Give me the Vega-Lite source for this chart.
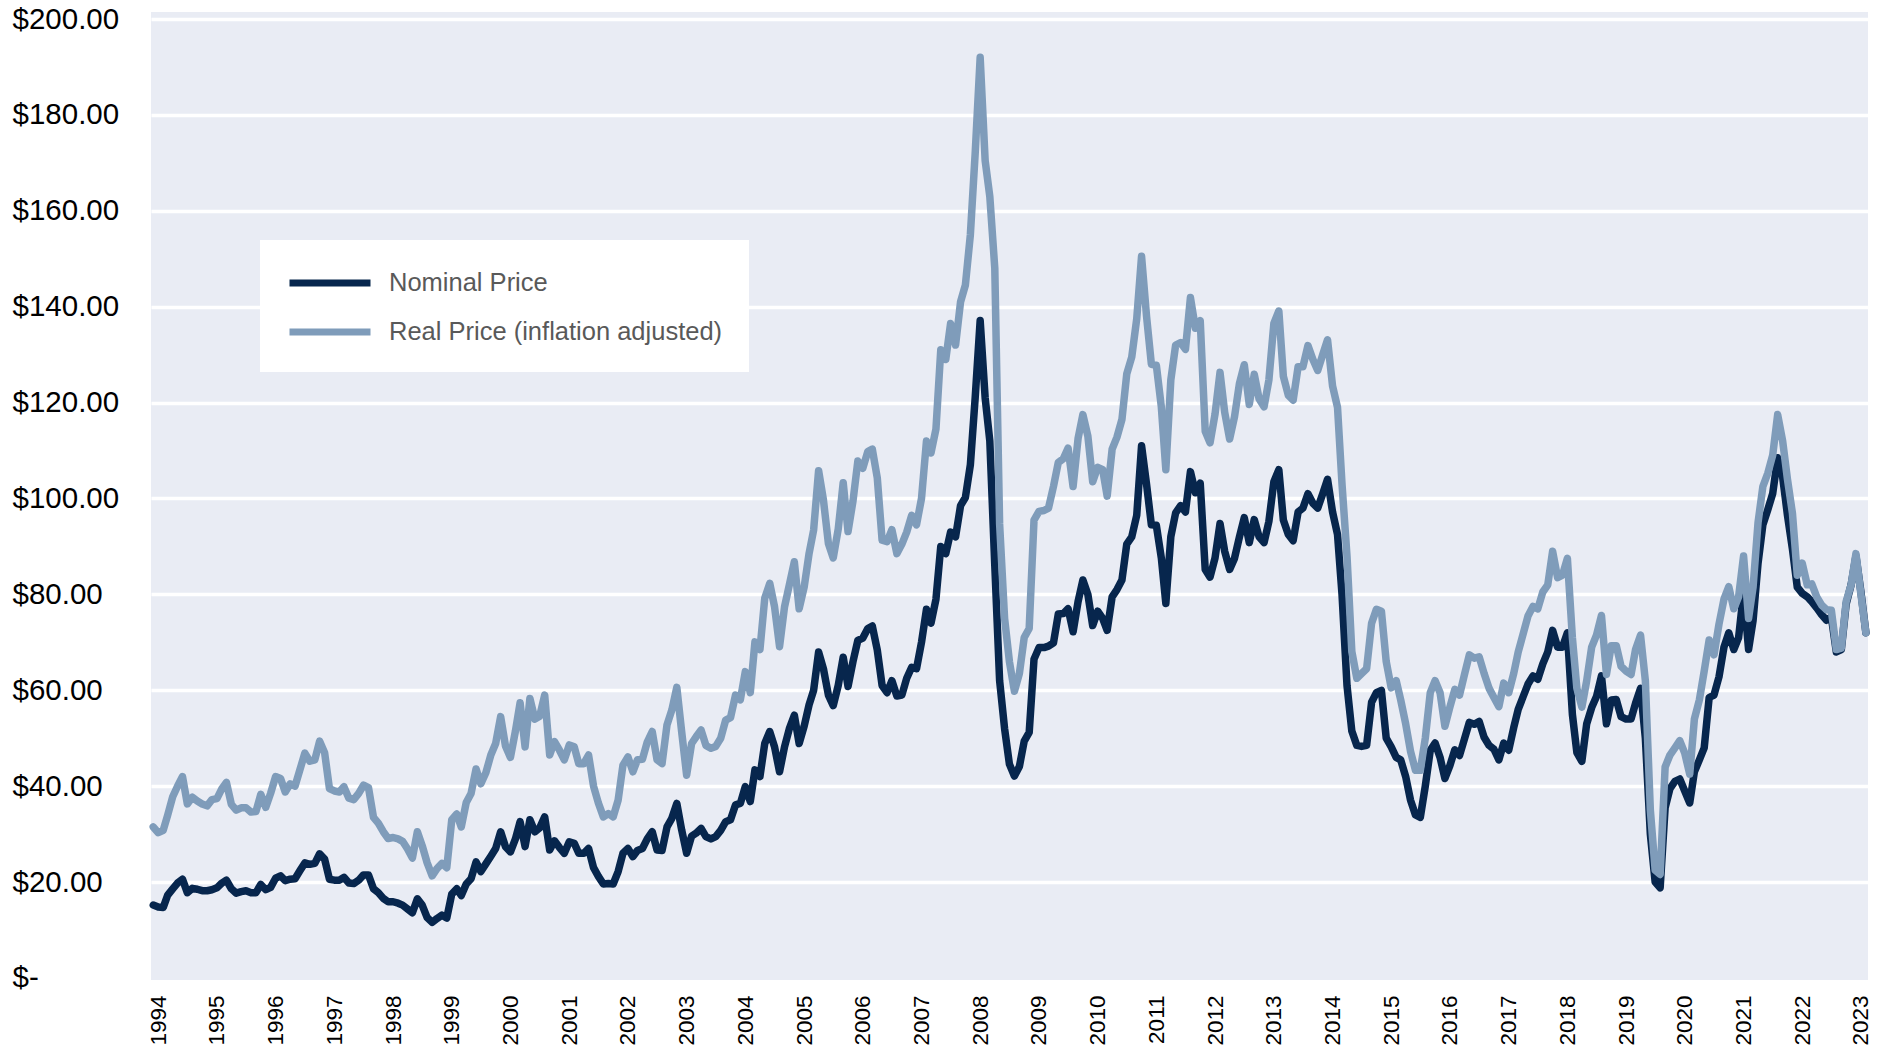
{
"$schema":"https://vega.github.io/schema/vega-lite/v6.json",
"width":1717,"height":968,
"autosize":{"type":"none"},
"padding":{"left":151,"top":12,"right":23,"bottom":74},
"background":"#ffffff",
"config":{"font":"Liberation Sans","view":{"fill":"#E9ECF4","stroke":null}},
"data":{"values":[
{"d":"1993-12","n":15.2,"r":31.5},
{"d":"1994-01","n":14.8,"r":30.3},{"d":"1994-02","n":14.7,"r":30.8},{"d":"1994-03","n":17.3,"r":34.0},{"d":"1994-04","n":18.6,"r":37.8},{"d":"1994-05","n":19.8,"r":40.0},{"d":"1994-06","n":20.6,"r":42.0},{"d":"1994-07","n":17.8,"r":36.3},{"d":"1994-08","n":18.7,"r":37.7},{"d":"1994-09","n":18.5,"r":36.9},{"d":"1994-10","n":18.2,"r":36.3},{"d":"1994-11","n":18.2,"r":35.9},{"d":"1994-12","n":18.4,"r":37.2},
{"d":"1995-01","n":18.8,"r":37.4},{"d":"1995-02","n":19.8,"r":39.5},{"d":"1995-03","n":20.4,"r":40.8},{"d":"1995-04","n":18.6,"r":36.2},{"d":"1995-05","n":17.7,"r":35.0},{"d":"1995-06","n":18.0,"r":35.5},{"d":"1995-07","n":18.2,"r":35.5},{"d":"1995-08","n":17.8,"r":34.6},{"d":"1995-09","n":17.8,"r":34.7},{"d":"1995-10","n":19.5,"r":38.3},{"d":"1995-11","n":18.4,"r":35.6},{"d":"1995-12","n":18.9,"r":38.5},
{"d":"1996-01","n":20.8,"r":42.0},{"d":"1996-02","n":21.3,"r":41.6},{"d":"1996-03","n":20.3,"r":38.8},{"d":"1996-04","n":20.6,"r":40.5},{"d":"1996-05","n":20.7,"r":40.0},{"d":"1996-06","n":22.4,"r":43.5},{"d":"1996-07","n":24.0,"r":46.9},{"d":"1996-08","n":23.7,"r":45.2},{"d":"1996-09","n":23.9,"r":45.5},{"d":"1996-10","n":25.9,"r":49.4},{"d":"1996-11","n":24.8,"r":47.0},{"d":"1996-12","n":20.6,"r":39.5},
{"d":"1997-01","n":20.4,"r":39.0},{"d":"1997-02","n":20.4,"r":38.8},{"d":"1997-03","n":21.0,"r":39.9},{"d":"1997-04","n":19.8,"r":37.5},{"d":"1997-05","n":19.7,"r":37.2},{"d":"1997-06","n":20.4,"r":38.5},{"d":"1997-07","n":21.5,"r":40.2},{"d":"1997-08","n":21.5,"r":39.7},{"d":"1997-09","n":18.6,"r":33.5},{"d":"1997-10","n":17.8,"r":32.3},{"d":"1997-11","n":16.6,"r":30.5},{"d":"1997-12","n":15.9,"r":29.1},
{"d":"1998-01","n":15.9,"r":29.3},{"d":"1998-02","n":15.6,"r":29.0},{"d":"1998-03","n":15.2,"r":28.5},{"d":"1998-04","n":14.4,"r":26.9},{"d":"1998-05","n":13.6,"r":25.0},{"d":"1998-06","n":16.5,"r":30.5},{"d":"1998-07","n":15.2,"r":27.6},{"d":"1998-08","n":12.6,"r":24.0},{"d":"1998-09","n":11.6,"r":21.3},{"d":"1998-10","n":12.4,"r":22.8},{"d":"1998-11","n":13.1,"r":23.9},{"d":"1998-12","n":12.5,"r":23.0},
{"d":"1999-01","n":17.5,"r":33.0},{"d":"1999-02","n":18.6,"r":34.2},{"d":"1999-03","n":17.2,"r":31.5},{"d":"1999-04","n":19.6,"r":36.6},{"d":"1999-05","n":20.7,"r":38.5},{"d":"1999-06","n":24.2,"r":43.6},{"d":"1999-07","n":22.2,"r":40.5},{"d":"1999-08","n":23.8,"r":42.8},{"d":"1999-09","n":25.4,"r":46.5},{"d":"1999-10","n":27.0,"r":48.9},{"d":"1999-11","n":30.5,"r":54.5},{"d":"1999-12","n":27.4,"r":48.4},
{"d":"2000-01","n":26.3,"r":46.0},{"d":"2000-02","n":29.0,"r":51.5},{"d":"2000-03","n":32.6,"r":57.4},{"d":"2000-04","n":27.4,"r":48.2},{"d":"2000-05","n":33.0,"r":58.3},{"d":"2000-06","n":30.5,"r":54.0},{"d":"2000-07","n":31.3,"r":54.6},{"d":"2000-08","n":33.6,"r":59.0},{"d":"2000-09","n":26.7,"r":46.5},{"d":"2000-10","n":28.6,"r":49.3},{"d":"2000-11","n":27.2,"r":47.5},{"d":"2000-12","n":26.0,"r":45.5},
{"d":"2001-01","n":28.4,"r":48.6},{"d":"2001-02","n":28.1,"r":48.2},{"d":"2001-03","n":26.0,"r":44.7},{"d":"2001-04","n":26.0,"r":44.7},{"d":"2001-05","n":27.0,"r":46.5},{"d":"2001-06","n":23.0,"r":40.0},{"d":"2001-07","n":21.2,"r":36.5},{"d":"2001-08","n":19.6,"r":33.6},{"d":"2001-09","n":19.7,"r":34.3},{"d":"2001-10","n":19.6,"r":33.6},{"d":"2001-11","n":22.2,"r":37.1},{"d":"2001-12","n":26.0,"r":44.4},
{"d":"2002-01","n":27.0,"r":46.1},{"d":"2002-02","n":25.3,"r":43.0},{"d":"2002-03","n":26.6,"r":45.5},{"d":"2002-04","n":27.0,"r":45.6},{"d":"2002-05","n":29.0,"r":49.2},{"d":"2002-06","n":30.5,"r":51.4},{"d":"2002-07","n":26.7,"r":45.5},{"d":"2002-08","n":26.6,"r":44.7},{"d":"2002-09","n":31.5,"r":52.8},{"d":"2002-10","n":33.3,"r":55.9},{"d":"2002-11","n":36.4,"r":60.6},{"d":"2002-12","n":30.9,"r":51.4},
{"d":"2003-01","n":26.0,"r":42.3},{"d":"2003-02","n":29.6,"r":48.9},{"d":"2003-03","n":30.2,"r":50.3},{"d":"2003-04","n":31.2,"r":51.7},{"d":"2003-05","n":29.5,"r":48.5},{"d":"2003-06","n":29.0,"r":47.9},{"d":"2003-07","n":29.5,"r":48.3},{"d":"2003-08","n":30.8,"r":50.0},{"d":"2003-09","n":32.6,"r":53.8},{"d":"2003-10","n":33.0,"r":54.3},{"d":"2003-11","n":36.1,"r":59.0},{"d":"2003-12","n":36.4,"r":58.0},
{"d":"2004-01","n":39.9,"r":63.9},{"d":"2004-02","n":36.8,"r":59.5},{"d":"2004-03","n":43.4,"r":70.1},{"d":"2004-04","n":42.0,"r":68.5},{"d":"2004-05","n":48.9,"r":79.2},{"d":"2004-06","n":51.4,"r":82.3},{"d":"2004-07","n":48.2,"r":77.4},{"d":"2004-08","n":43.0,"r":69.1},{"d":"2004-09","n":48.2,"r":77.4},{"d":"2004-10","n":52.0,"r":82.0},{"d":"2004-11","n":54.8,"r":86.8},{"d":"2004-12","n":48.9,"r":77.0},
{"d":"2005-01","n":52.5,"r":81.5},{"d":"2005-02","n":57.0,"r":88.6},{"d":"2005-03","n":60.0,"r":93.4},{"d":"2005-04","n":68.0,"r":105.8},{"d":"2005-05","n":64.5,"r":99.7},{"d":"2005-06","n":59.0,"r":90.6},{"d":"2005-07","n":56.8,"r":87.6},{"d":"2005-08","n":61.0,"r":93.6},{"d":"2005-09","n":66.9,"r":103.3},{"d":"2005-10","n":60.8,"r":93.1},{"d":"2005-11","n":66.0,"r":99.5},{"d":"2005-12","n":70.4,"r":107.8},
{"d":"2006-01","n":70.9,"r":106.3},{"d":"2006-02","n":72.9,"r":109.8},{"d":"2006-03","n":73.4,"r":110.3},{"d":"2006-04","n":68.4,"r":104.3},{"d":"2006-05","n":61.0,"r":91.3},{"d":"2006-06","n":59.5,"r":91.0},{"d":"2006-07","n":62.0,"r":93.5},{"d":"2006-08","n":58.8,"r":88.5},{"d":"2006-09","n":59.0,"r":90.5},{"d":"2006-10","n":62.5,"r":93.0},{"d":"2006-11","n":64.8,"r":96.5},{"d":"2006-12","n":64.5,"r":94.5},
{"d":"2007-01","n":70.0,"r":100.0},{"d":"2007-02","n":76.9,"r":112.0},{"d":"2007-03","n":74.0,"r":109.5},{"d":"2007-04","n":79.0,"r":114.5},{"d":"2007-05","n":90.0,"r":131.0},{"d":"2007-06","n":88.5,"r":129.0},{"d":"2007-07","n":93.0,"r":136.5},{"d":"2007-08","n":92.0,"r":132.0},{"d":"2007-09","n":98.5,"r":141.0},{"d":"2007-10","n":100.2,"r":144.5},{"d":"2007-11","n":107.0,"r":155.0},{"d":"2007-12","n":121.0,"r":172.0},
{"d":"2008-01","n":137.1,"r":192.0},{"d":"2008-02","n":121.0,"r":170.5},{"d":"2008-03","n":112.0,"r":163.0},{"d":"2008-04","n":86.0,"r":148.0},{"d":"2008-05","n":62.0,"r":94.7},{"d":"2008-06","n":52.0,"r":75.0},{"d":"2008-07","n":44.6,"r":66.0},{"d":"2008-08","n":42.1,"r":59.8},{"d":"2008-09","n":44.1,"r":63.5},{"d":"2008-10","n":49.4,"r":71.0},{"d":"2008-11","n":51.2,"r":72.9},{"d":"2008-12","n":66.5,"r":95.5},
{"d":"2009-01","n":68.9,"r":97.3},{"d":"2009-02","n":68.9,"r":97.5},{"d":"2009-03","n":69.2,"r":98.0},{"d":"2009-04","n":69.9,"r":102.5},{"d":"2009-05","n":75.9,"r":107.5},{"d":"2009-06","n":76.0,"r":108.3},{"d":"2009-07","n":77.0,"r":110.5},{"d":"2009-08","n":72.2,"r":102.5},{"d":"2009-09","n":78.5,"r":112.5},{"d":"2009-10","n":83.0,"r":117.5},{"d":"2009-11","n":80.0,"r":113.0},{"d":"2009-12","n":73.5,"r":103.5},
{"d":"2010-01","n":76.5,"r":106.5},{"d":"2010-02","n":75.0,"r":106.0},{"d":"2010-03","n":72.5,"r":100.5},{"d":"2010-04","n":79.5,"r":110.3},{"d":"2010-05","n":81.0,"r":112.8},{"d":"2010-06","n":83.0,"r":116.5},{"d":"2010-07","n":90.5,"r":126.0},{"d":"2010-08","n":92.0,"r":129.5},{"d":"2010-09","n":96.5,"r":137.5},{"d":"2010-10","n":111.0,"r":150.5},{"d":"2010-11","n":103.0,"r":138.0},{"d":"2010-12","n":94.5,"r":128.0},
{"d":"2011-01","n":94.4,"r":127.8},{"d":"2011-02","n":87.6,"r":119.1},{"d":"2011-03","n":78.1,"r":106.0},{"d":"2011-04","n":92.0,"r":124.7},{"d":"2011-05","n":97.0,"r":132.0},{"d":"2011-06","n":98.5,"r":132.5},{"d":"2011-07","n":97.2,"r":131.1},{"d":"2011-08","n":105.6,"r":141.9},{"d":"2011-09","n":101.2,"r":135.5},{"d":"2011-10","n":103.2,"r":137.1},{"d":"2011-11","n":85.2,"r":114.0},{"d":"2011-12","n":83.6,"r":111.6},
{"d":"2012-01","n":87.6,"r":117.6},{"d":"2012-02","n":94.8,"r":126.3},{"d":"2012-03","n":89.0,"r":118.0},{"d":"2012-04","n":85.2,"r":112.4},{"d":"2012-05","n":87.5,"r":117.0},{"d":"2012-06","n":92.0,"r":124.0},{"d":"2012-07","n":96.0,"r":127.9},{"d":"2012-08","n":90.8,"r":119.6},{"d":"2012-09","n":95.6,"r":125.9},{"d":"2012-10","n":92.0,"r":120.8},{"d":"2012-11","n":90.8,"r":119.1},{"d":"2012-12","n":95.2,"r":124.7},
{"d":"2013-01","n":103.5,"r":136.5},{"d":"2013-02","n":106.0,"r":139.1},{"d":"2013-03","n":95.5,"r":125.5},{"d":"2013-04","n":92.5,"r":121.5},{"d":"2013-05","n":91.2,"r":120.5},{"d":"2013-06","n":97.2,"r":127.5},{"d":"2013-07","n":98.0,"r":127.5},{"d":"2013-08","n":101.0,"r":131.9},{"d":"2013-09","n":99.0,"r":129.0},{"d":"2013-10","n":98.0,"r":126.7},{"d":"2013-11","n":101.0,"r":130.0},{"d":"2013-12","n":104.0,"r":133.1},
{"d":"2014-01","n":97.2,"r":123.5},{"d":"2014-02","n":92.5,"r":119.0},{"d":"2014-03","n":80.0,"r":103.0},{"d":"2014-04","n":61.0,"r":88.0},{"d":"2014-05","n":51.5,"r":68.1},{"d":"2014-06","n":48.5,"r":62.5},{"d":"2014-07","n":48.3,"r":63.5},{"d":"2014-08","n":48.5,"r":64.5},{"d":"2014-09","n":57.5,"r":74.0},{"d":"2014-10","n":59.5,"r":76.9},{"d":"2014-11","n":60.0,"r":76.5},{"d":"2014-12","n":50.0,"r":66.0},
{"d":"2015-01","n":48.2,"r":60.5},{"d":"2015-02","n":46.0,"r":62.0},{"d":"2015-03","n":45.5,"r":58.0},{"d":"2015-04","n":42.0,"r":53.0},{"d":"2015-05","n":37.1,"r":47.3},{"d":"2015-06","n":34.0,"r":43.3},{"d":"2015-07","n":33.5,"r":43.3},{"d":"2015-08","n":40.0,"r":50.0},{"d":"2015-09","n":47.5,"r":59.5},{"d":"2015-10","n":49.0,"r":62.0},{"d":"2015-11","n":46.0,"r":59.5},{"d":"2015-12","n":41.6,"r":52.5},
{"d":"2016-01","n":44.3,"r":56.5},{"d":"2016-02","n":47.6,"r":60.2},{"d":"2016-03","n":46.4,"r":59.0},{"d":"2016-04","n":49.9,"r":63.3},{"d":"2016-05","n":53.3,"r":67.4},{"d":"2016-06","n":52.9,"r":66.7},{"d":"2016-07","n":53.5,"r":67.0},{"d":"2016-08","n":50.2,"r":63.5},{"d":"2016-09","n":48.5,"r":60.4},{"d":"2016-10","n":47.7,"r":58.5},{"d":"2016-11","n":45.5,"r":56.6},{"d":"2016-12","n":49.0,"r":61.5},
{"d":"2017-01","n":47.5,"r":59.5},{"d":"2017-02","n":52.2,"r":63.5},{"d":"2017-03","n":56.0,"r":68.0},{"d":"2017-04","n":58.7,"r":71.8},{"d":"2017-05","n":61.3,"r":75.5},{"d":"2017-06","n":63.0,"r":77.5},{"d":"2017-07","n":62.3,"r":77.0},{"d":"2017-08","n":65.5,"r":80.5},{"d":"2017-09","n":68.0,"r":82.0},{"d":"2017-10","n":72.5,"r":89.0},{"d":"2017-11","n":69.0,"r":83.5},{"d":"2017-12","n":69.0,"r":84.0},
{"d":"2018-01","n":72.0,"r":87.5},{"d":"2018-02","n":55.0,"r":71.0},{"d":"2018-03","n":47.0,"r":60.4},{"d":"2018-04","n":45.2,"r":56.5},{"d":"2018-05","n":53.0,"r":62.0},{"d":"2018-06","n":56.4,"r":69.0},{"d":"2018-07","n":58.7,"r":71.5},{"d":"2018-08","n":63.0,"r":75.6},{"d":"2018-09","n":53.0,"r":63.3},{"d":"2018-10","n":58.0,"r":69.3},{"d":"2018-11","n":58.1,"r":69.3},{"d":"2018-12","n":54.5,"r":65.0},
{"d":"2019-01","n":54.0,"r":64.0},{"d":"2019-02","n":54.0,"r":63.3},{"d":"2019-03","n":57.3,"r":68.5},{"d":"2019-04","n":60.4,"r":71.5},{"d":"2019-05","n":50.0,"r":62.0},{"d":"2019-06","n":30.0,"r":35.0},{"d":"2019-07","n":20.0,"r":22.5},{"d":"2019-08","n":18.8,"r":21.6},{"d":"2019-09","n":35.5,"r":44.0},{"d":"2019-10","n":39.5,"r":46.5},{"d":"2019-11","n":41.0,"r":48.0},{"d":"2019-12","n":41.5,"r":49.5},
{"d":"2020-01","n":39.0,"r":46.9},{"d":"2020-02","n":36.5,"r":42.5},{"d":"2020-03","n":43.0,"r":54.0},{"d":"2020-04","n":45.5,"r":58.0},{"d":"2020-05","n":48.0,"r":64.0},{"d":"2020-06","n":58.5,"r":70.5},{"d":"2020-07","n":59.0,"r":67.4},{"d":"2020-08","n":62.8,"r":73.8},{"d":"2020-09","n":69.0,"r":79.0},{"d":"2020-10","n":72.0,"r":81.6},{"d":"2020-11","n":68.5,"r":77.0},{"d":"2020-12","n":71.0,"r":79.5},
{"d":"2021-01","n":80.5,"r":88.0},{"d":"2021-02","n":68.5,"r":75.0},{"d":"2021-03","n":74.5,"r":81.5},{"d":"2021-04","n":86.5,"r":95.0},{"d":"2021-05","n":94.5,"r":102.5},{"d":"2021-06","n":97.7,"r":105.3},{"d":"2021-07","n":101.0,"r":109.0},{"d":"2021-08","n":108.5,"r":117.5},{"d":"2021-09","n":104.5,"r":112.0},{"d":"2021-10","n":96.5,"r":104.0},{"d":"2021-11","n":89.4,"r":96.9},{"d":"2021-12","n":81.5,"r":84.0},
{"d":"2022-01","n":80.2,"r":86.5},{"d":"2022-02","n":79.5,"r":82.0},{"d":"2022-03","n":78.5,"r":82.2},{"d":"2022-04","n":77.2,"r":79.5},{"d":"2022-05","n":75.8,"r":77.8},{"d":"2022-06","n":74.6,"r":76.8},{"d":"2022-07","n":75.3,"r":76.7},{"d":"2022-08","n":68.0,"r":68.5},{"d":"2022-09","n":68.5,"r":68.8},{"d":"2022-10","n":78.0,"r":78.5},{"d":"2022-11","n":82.0,"r":82.0},{"d":"2022-12","n":88.0,"r":88.5},
{"d":"2023-01","n":80.5,"r":80.0},{"d":"2023-02","n":72.0,"r":72.0}
]},
"transform":[{"fold":["n","r"],"as":["s","v"]}],
"mark":{"type":"line","strokeWidth":7.5,"strokeCap":"round","strokeJoin":"round"},
"encoding":{
"x":{"field":"d","type":"temporal",
 "scale":{"type":"utc","domain":[{"year":1993,"month":11,"date":17,"utc":true},{"year":2023,"month":2,"date":14,"utc":true}]},
 "axis":{"title":null,"format":"%Y","labelAngle":-90,"labelFontSize":22.5,"labelColor":"#000000","labelPadding":15,"domain":false,"ticks":false,"tickSize":0,"grid":false,"labelOverlap":false,"labelFlush":false,
  "values":[{"year":1994,"month":1,"date":1,"utc":true},{"year":1995,"month":1,"date":1,"utc":true},{"year":1996,"month":1,"date":1,"utc":true},{"year":1997,"month":1,"date":1,"utc":true},{"year":1998,"month":1,"date":1,"utc":true},{"year":1999,"month":1,"date":1,"utc":true},{"year":2000,"month":1,"date":1,"utc":true},{"year":2001,"month":1,"date":1,"utc":true},{"year":2002,"month":1,"date":1,"utc":true},{"year":2003,"month":1,"date":1,"utc":true},{"year":2004,"month":1,"date":1,"utc":true},{"year":2005,"month":1,"date":1,"utc":true},{"year":2006,"month":1,"date":1,"utc":true},{"year":2007,"month":1,"date":1,"utc":true},{"year":2008,"month":1,"date":1,"utc":true},{"year":2009,"month":1,"date":1,"utc":true},{"year":2010,"month":1,"date":1,"utc":true},{"year":2011,"month":1,"date":1,"utc":true},{"year":2012,"month":1,"date":1,"utc":true},{"year":2013,"month":1,"date":1,"utc":true},{"year":2014,"month":1,"date":1,"utc":true},{"year":2015,"month":1,"date":1,"utc":true},{"year":2016,"month":1,"date":1,"utc":true},{"year":2017,"month":1,"date":1,"utc":true},{"year":2018,"month":1,"date":1,"utc":true},{"year":2019,"month":1,"date":1,"utc":true},{"year":2020,"month":1,"date":1,"utc":true},{"year":2021,"month":1,"date":1,"utc":true},{"year":2022,"month":1,"date":1,"utc":true},{"year":2023,"month":1,"date":1,"utc":true}]}},
"y":{"field":"v","type":"quantitative",
 "scale":{"domain":[-0.42,201.46],"nice":false,"zero":false},
 "axis":{"title":null,"values":[0,20,40,60,80,100,120,140,160,180,200],
  "labelExpr":"datum.value == 0 ? '$-' : '$' + format(datum.value, '.2f')",
  "labelAlign":"left","labelPadding":139,"labelFontSize":29.5,"labelColor":"#000000",
  "domain":false,"ticks":false,"tickSize":0,"grid":true,"gridColor":"#ffffff","gridWidth":3.5,
  "gridOpacity":{"condition":{"test":"datum.value === 0","value":0},"value":1}}},
"color":{"field":"s","type":"nominal",
 "scale":{"domain":["n","r"],"range":["#07264D","#7F9CBA"]},
 "legend":{"title":null,"orient":"none","legendX":109,"legendY":228,"fillColor":"#ffffff","padding":26,
  "symbolType":"M-1,0H5","symbolSize":729,"symbolStrokeWidth":7,
  "labelFontSize":25.5,"labelColor":"#595959","labelOffset":69,"labelLimit":600,"rowPadding":18,
  "labelExpr":"datum.value == 'n' ? 'Nominal Price' : 'Real Price (inflation adjusted)'"}}
}
}
